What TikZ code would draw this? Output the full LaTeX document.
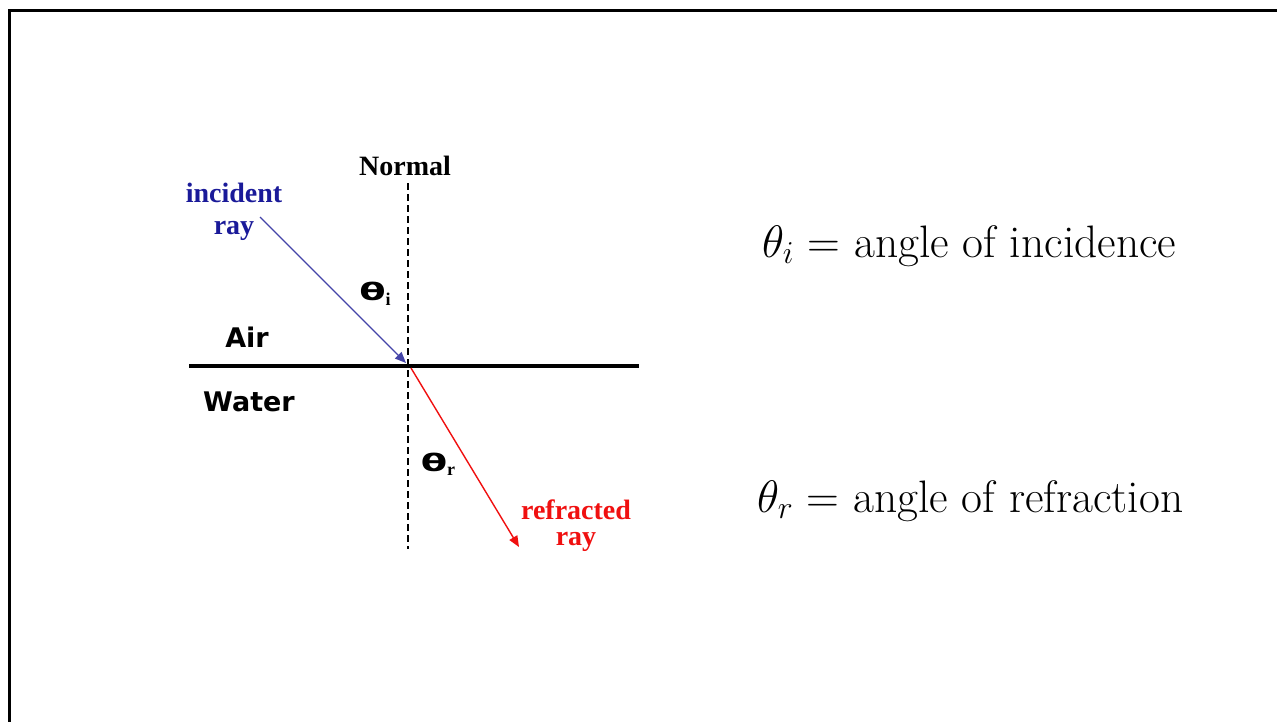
\RequirePackage{fix-cm}
\documentclass[tikz,border=0pt]{standalone}
\usepackage{fontspec}
\usetikzlibrary{arrows.meta}
\newfontfamily\pixserif{Liberation Serif}
\newfontfamily\pixsans{DejaVu Sans}
\definecolor{raytext}{HTML}{1A1A99}
\definecolor{rayline}{HTML}{4444A8}
\definecolor{refred}{HTML}{F01010}
\begin{document}
\begin{tikzpicture}[x=1pt,y=-1pt,
  lbl/.style={inner sep=0pt,outer sep=0pt},
  serifbold/.style={lbl,font=\pixserif\bfseries\fontsize{28}{30}\selectfont,align=center},
  sansbold/.style={lbl,font=\pixsans\bfseries\fontsize{27}{30}\selectfont},
  thetalbl/.style={lbl,font=\pixsans\bfseries\fontsize{24}{28}\selectfont},
  eqn/.style={lbl,anchor=base west,font=\fontsize{45.5}{54}\selectfont},
  normalline/.style={line width=2.5pt,dash pattern=on 6.5pt off 4.5pt},
  surface/.style={line width=4pt},
  incray/.style={rayline,line width=1.4pt,-{Triangle[length=11pt,width=9pt]}},
  refray/.style={refred,line width=1.4pt,-{Triangle[length=11pt,width=9pt]}}]
\useasboundingbox (0,0) rectangle (1277,721);
\fill[white] (0,0) rectangle (1277,721);
% frame
\draw[line width=3pt] (1290,10.5) -- (9.5,10.5) -- (9.5,735);
% geometry
\coordinate (O) at (408,366);
\coordinate (ntop) at (408,183);
\coordinate (nbot) at (408,549);
\coordinate (sl) at (189,366);
\coordinate (sr) at (639,366);
\coordinate (istart) at (260,217);
\coordinate (iend) at (406,363);
\coordinate (rstart) at (411,368);
\coordinate (rend) at (519,547);
\draw[normalline] (ntop) -- (nbot);
\draw[surface] (sl) -- (sr);
\draw[incray] (istart) -- (iend);
\draw[refray] (rstart) -- (rend);
% labels
\node[serifbold] (normal) at (405,166) {Normal};
\node[serifbold,text=raytext,font=\pixserif\bfseries\fontsize{28}{32}\selectfont] (incident) at (234,212) {incident\\ray};
\node[serifbold,text=refred,font=\pixserif\bfseries\fontsize{28}{26}\selectfont] (refracted) at (576,526) {refracted\\ray};
\node[sansbold] (air) at (247,337) {Air};
\node[sansbold] (water) at (249,402) {Water};
\node[thetalbl] (thi) at (375,294)
  {\scalebox{1.6}[1]{θ}\raisebox{-5pt}{\pixserif\bfseries\fontsize{18}{20}\selectfont i}};
\node[thetalbl] (thr) at (438,464)
  {\scalebox{1.6}[1]{θ}\raisebox{-4pt}{\pixserif\bfseries\fontsize{18}{20}\selectfont r}};
% right-hand equations
\node[eqn] (eqi) at (762,257) {$\theta_i$ = angle of incidence};
\node[eqn] (eqr) at (757,512) {$\theta_r$ = angle of refraction};
\end{tikzpicture}
\end{document}
